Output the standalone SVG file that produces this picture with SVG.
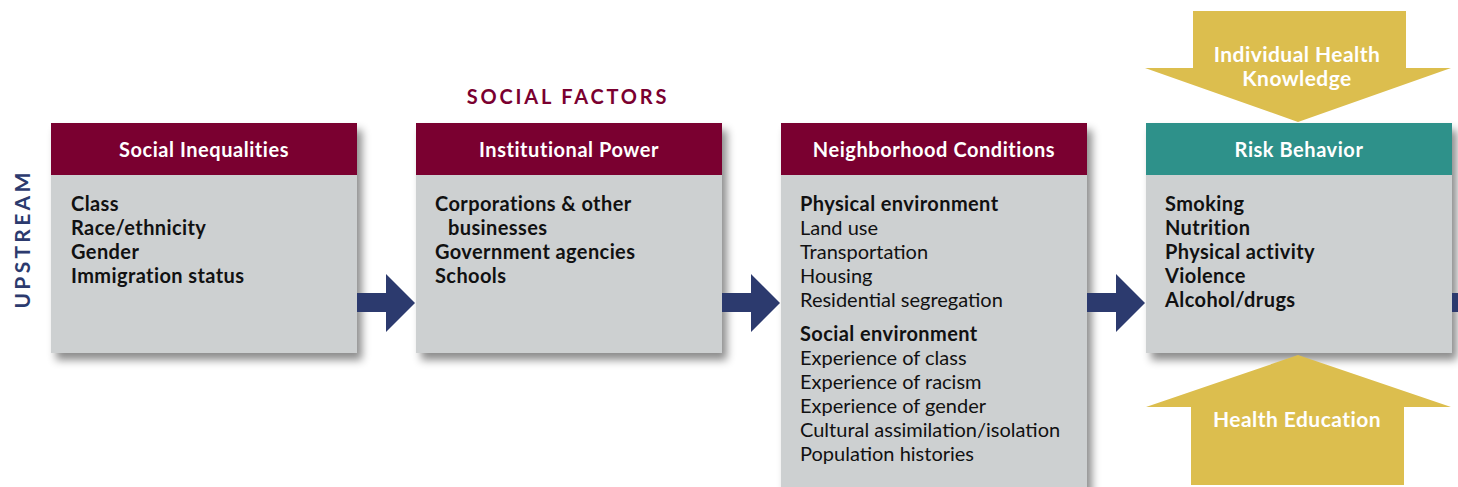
<svg xmlns="http://www.w3.org/2000/svg" width="1458" height="487" viewBox="0 0 1458 487">
<defs>
<filter id="sh" x="-10%" y="-10%" width="125%" height="125%">
<feDropShadow dx="5" dy="7" stdDeviation="4" flood-color="#000" flood-opacity="0.45"/>
</filter>
<style>
text{font-family:Lato,"Open Sans","Liberation Sans",sans-serif}
.body{fill:#cdd0d1}
.hdr{fill:#7a0030}
.hdrT{fill:#2e918a}
.ht{fill:#fff;font-weight:700;font-size:20px;text-anchor:middle;letter-spacing:0.55px}
.b{fill:#111;font-weight:700;font-size:20px;letter-spacing:0.4px}
.n{fill:#111;font-weight:400;font-size:20px}
.arr{fill:#2c3a6e}
.gold{fill:#dcbe4e}
.gt{fill:#fff;font-weight:700;font-size:21px;text-anchor:middle;letter-spacing:0.45px}
</style>
</defs>
<rect width="1458" height="487" fill="#fff"/>
<text x="568" y="104" text-anchor="middle" font-size="20" font-weight="700" letter-spacing="2.8" fill="#7a0030">SOCIAL FACTORS</text>
<text transform="translate(30,239) rotate(-90)" text-anchor="middle" font-size="21" font-weight="700" letter-spacing="3.3" fill="#2c3a6e">UPSTREAM</text>

<g id="node-social-inequalities">
<g filter="url(#sh)"><rect class="body" x="51" y="123" width="306" height="230"/></g>
<rect class="hdr" x="51" y="123" width="306" height="52"/>
<text class="ht" x="204" y="157">Social Inequalities</text>
<text class="b" x="71" y="211">Class</text>
<text class="b" x="71" y="235">Race/ethnicity</text>
<text class="b" x="71" y="259">Gender</text>
<text class="b" x="71" y="283">Immigration status</text>
</g>

<g id="node-institutional-power">
<g filter="url(#sh)"><rect class="body" x="416" y="123" width="306" height="230"/></g>
<rect class="hdr" x="416" y="123" width="306" height="52"/>
<text class="ht" x="569" y="157">Institutional Power</text>
<text class="b" x="435" y="211">Corporations &amp; other</text>
<text class="b" x="448" y="235">businesses</text>
<text class="b" x="435" y="259">Government agencies</text>
<text class="b" x="435" y="283">Schools</text>
</g>

<g id="node-neighborhood-conditions">
<g filter="url(#sh)"><rect class="body" x="781" y="123" width="306" height="380"/></g>
<rect class="hdr" x="781" y="123" width="306" height="52"/>
<text class="ht" x="934" y="157">Neighborhood Conditions</text>
<text class="b" x="800" y="211">Physical environment</text>
<text class="n" x="800" y="235">Land use</text>
<text class="n" x="800" y="259">Transportation</text>
<text class="n" x="800" y="283">Housing</text>
<text class="n" x="800" y="307">Residential segregation</text>
<text class="b" x="800" y="341">Social environment</text>
<text class="n" x="800" y="365">Experience of class</text>
<text class="n" x="800" y="389">Experience of racism</text>
<text class="n" x="800" y="413">Experience of gender</text>
<text class="n" x="800" y="437">Cultural assimilation/isolation</text>
<text class="n" x="800" y="461">Population histories</text>
</g>

<g id="node-risk-behavior">
<g filter="url(#sh)"><rect class="body" x="1146" y="123" width="306" height="230"/></g>
<rect class="hdrT" x="1146" y="123" width="306" height="52"/>
<text class="ht" x="1299" y="157">Risk Behavior</text>
<text class="b" x="1165" y="211">Smoking</text>
<text class="b" x="1165" y="235">Nutrition</text>
<text class="b" x="1165" y="259">Physical activity</text>
<text class="b" x="1165" y="283">Violence</text>
<text class="b" x="1165" y="307">Alcohol/drugs</text>
</g>

<g id="node-individual-health-knowledge">
<polygon class="gold" points="1193,11 1406,11 1406,68 1451,68 1298,122 1145,68 1193,68"/>
<text class="gt" x="1297" y="62">Individual Health</text>
<text class="gt" x="1297" y="86">Knowledge</text>
</g>

<g id="node-health-education">
<polygon class="gold" points="1298,355 1451,407 1404,407 1404,485 1191,485 1191,407 1146,407"/>
<text class="gt" x="1297" y="427">Health Education</text>
</g>

<g id="connectors">
<polygon class="arr" points="357,293 386,293 386,274 415,303 386,332 386,312 357,312"/>
<polygon class="arr" points="722,293 751,293 751,274 780,303 751,332 751,312 722,312"/>
<polygon class="arr" points="1087,293 1116,293 1116,274 1145,303 1116,332 1116,312 1087,312"/>
<rect class="arr" x="1452" y="293" width="6" height="19"/>
</g>
</svg>
